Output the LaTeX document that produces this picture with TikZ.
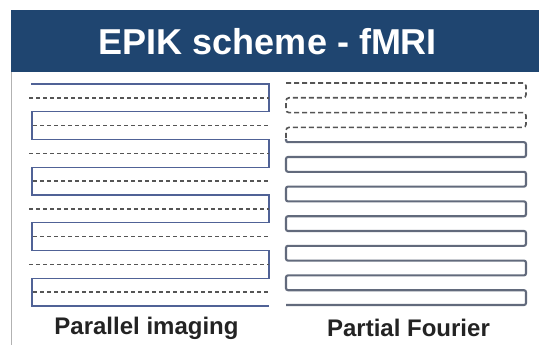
\documentclass[tikz,border=0pt]{standalone}
\usepackage{fontspec}
\setmainfont{Liberation Sans}
\definecolor{hdr}{RGB}{31,69,112}
\definecolor{lcol}{RGB}{80,98,150}
\definecolor{rcol}{RGB}{98,106,124}
\definecolor{dcol}{RGB}{85,85,85}
\definecolor{txt}{RGB}{35,35,35}
\tikzset{
  lserp/.style={draw=lcol, line width=1.4pt, line join=miter},
  rserp/.style={draw=rcol, line width=2.1pt, rounded corners=2pt},
  ldash/.style={draw=dcol, line width=1.3pt, dash pattern=on 4pt off 3pt},
  rdash/.style={draw=dcol, line width=1.6pt, dash pattern=on 5pt off 3pt, rounded corners=3pt},
  lbl/.style={anchor=base, text=txt, font=\bfseries\fontsize{24}{28}\selectfont, inner sep=0pt}
}
\begin{document}
\begin{tikzpicture}[x=1pt,y=-1pt]
\useasboundingbox (0,0) rectangle (539,345);
\fill[white] (0,0) rectangle (539,345);
% header
\fill[hdr] (11,10) rectangle (539,72);
\draw[gray!60, line width=1pt] (11,72) -- (11,345);
\node[anchor=base, text=white, font=\bfseries\fontsize{36}{40}\selectfont, inner sep=0pt] (title) at (268,55) {EPIK scheme - fMRI};
% left column: parallel imaging
\draw[lserp] (31,84) -- (269,84) -- (269,111.75) -- (32,111.75) -- (32,139.5) -- (269,139.5)
  -- (269,167.25) -- (32,167.25) -- (32,195) -- (269,195) -- (269,222.75) -- (32,222.75)
  -- (32,250.5) -- (269,250.5) -- (269,278.25) -- (32,278.25) -- (32,306) -- (269,306);
\foreach \y/\xa in {97.9/29,125.6/33,153.4/29,181.1/33,208.9/29,236.6/33,264.4/29,292.1/33}
  \draw[ldash] (\xa,\y) -- (269,\y);
% right column: partial Fourier
\draw[rdash] (286,83) -- (526,83) -- (526,97.8) -- (286,97.8) -- (286,112.6) -- (526,112.6)
  -- (526,127.4) -- (286,127.4) -- (286,140);
\draw[rserp] (286,139) -- (286,142.2) -- (526,142.2) -- (526,157) -- (286,157) -- (286,171.8) -- (526,171.8)
  -- (526,186.6) -- (286,186.6) -- (286,201.4) -- (526,201.4) -- (526,216.2) -- (286,216.2)
  -- (286,231) -- (526,231) -- (526,245.8) -- (286,245.8) -- (286,260.6) -- (526,260.6)
  -- (526,275.4) -- (286,275.4) -- (286,290.2) -- (526,290.2) -- (526,305) -- (286,305);
% labels
\node[lbl] (pi) at (146.5,334) {Parallel imaging};
\node[lbl] (pf) at (408.5,336) {Partial Fourier};
\end{tikzpicture}
\end{document}
